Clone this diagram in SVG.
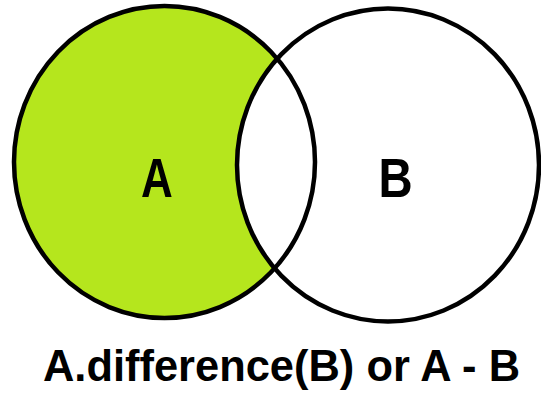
<svg xmlns="http://www.w3.org/2000/svg" width="541" height="396" viewBox="0 0 541 396">
<style>
.ring{fill:none;stroke:#000;stroke-width:4.5}
.lbl{font-family:"Liberation Sans",Arial,sans-serif;font-weight:bold;fill:#000}
</style>
<rect width="541" height="396" fill="#fff"/>
<g id="setA-fill">
<ellipse cx="164.5" cy="162" rx="150.5" ry="156" fill="#b5e61d"/>
</g>
<g id="setB">
<ellipse cx="388" cy="165" rx="151" ry="156.5" class="ring" style="fill:#fff"/>
<text class="lbl" font-size="55" text-anchor="middle" transform="translate(395.5,196.5) scale(0.86,1)">B</text>
</g>
<g id="setA">
<ellipse cx="164.5" cy="162" rx="150.5" ry="156" class="ring"/>
<text class="lbl" font-size="55" text-anchor="middle" transform="translate(157,196.5) scale(0.8,1)">A</text>
</g>
<g id="caption">
<text class="lbl" x="43" y="381" font-size="45" textLength="477" lengthAdjust="spacingAndGlyphs">A.difference(B) or A - B</text>
</g>
</svg>
